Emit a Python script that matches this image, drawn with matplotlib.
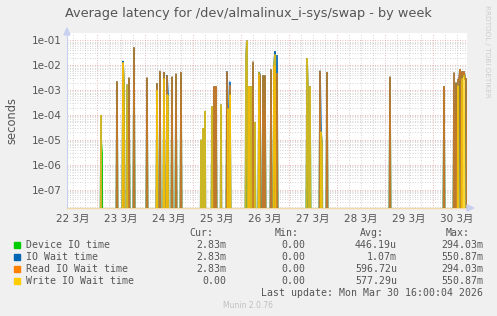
import numpy as np
import matplotlib
matplotlib.use("Agg")
import matplotlib.pyplot as plt

# ---------------- data ----------------
title = "Average latency for /dev/almalinux_i-sys/swap - by week"
series_names = ["Device IO time", "IO Wait time", "Read IO Wait time", "Write IO Wait time"]
series_colors = ["#00cc00", "#0066b3", "#ff8000", "#ffcc00"]
cur_vals = ["2.83m", "2.83m", "2.83m", "0.00"]
min_vals = ["0.00", "0.00", "0.00", "0.00"]
avg_vals = ["446.19u", "1.07m", "596.72u", "577.29u"]
max_vals = ["294.03m", "550.87m", "294.03m", "550.87m"]
day_labels = ["22 3月", "23 3月", "24 3月", "25 3月", "26 3月", "27 3月", "28 3月", "29 3月", "30 3月"]
ytick_vals = [1e-1, 1e-2, 1e-3, 1e-4, 1e-5, 1e-6, 1e-7]
ytick_labels = ["1e-01", "1e-02", "1e-03", "1e-04", "1e-05", "1e-06", "1e-07"]

# spike times (hours since 22 Mar 00:00) and values of each series at that time (0 = idle)
spike_hours = [26, 26.5, 34, 37, 37.5, 39, 40, 42.5, 49, 54, 55.5, 57.5, 59, 59.5,
               61.5, 63.5, 66, 76, 77, 78, 81.5, 82.5, 83.5, 86, 89, 89.5, 90.5,
               98.5, 99, 100, 101, 102, 103, 105, 105.5, 107, 108, 111, 112.5, 113, 114,
               129, 129.5, 130.5, 135.5, 136, 136.5, 139, 170.5, 197.5, 202.5, 203.5,
               204.5, 205, 205.5, 206.5, 207, 207.5, 208, 208.5]
device_vals = [1e-5, 3e-6, 2e-3, 1e-2, 0, 0, 3e-3, 5e-2, 3e-3, 1.8e-3, 5.5e-3, 5e-3, 2e-4, 0,
               3.3e-3, 4.4e-3, 5e-3, 1e-7, 6e-8, 1e-7, 1e-4, 1.3e-3, 1.3e-3, 0, 5e-3, 0, 1e-3,
               2e-5, 1e-4, 1e-3, 1e-4, 1.2e-2, 3e-5, 3e-3, 3.5e-3, 3.8e-3, 3.8e-3, 6e-3, 2e-3, 1e-2, 4e-3,
               5e-4, 2e-4, 9e-4, 5e-3, 0, 0, 5e-3, 3.3e-3, 1.3e-3, 3.2e-4, 2e-3,
               5e-4, 5e-4, 6e-3, 5e-3, 3.5e-3, 5e-3, 2.83e-3, 2.83e-3]
wait_vals = [1e-4, 0, 2.3e-3, 1.5e-2, 2e-3, 1.7e-3, 3.2e-3, 5.4e-2, 3.2e-3, 1.9e-3, 6e-3, 5.4e-3, 3.9e-3, 6e-4,
             3.5e-3, 4.6e-3, 5.4e-3, 1e-5, 3e-5, 1.4e-4, 2.2e-4, 1.4e-3, 1.4e-3, 2.6e-4, 5.6e-3, 1.8e-4, 2.2e-3,
             2e-2, 9.8e-2, 1.4e-3, 1.4e-3, 1.4e-2, 5e-5, 5.4e-3, 4e-3, 4e-3, 4e-3, 7e-3, 1e-2, 3.6e-2, 2.6e-2,
             1.9e-2, 1e-3, 1.4e-3, 6e-3, 2.1e-5, 7e-6, 5.4e-3, 3.5e-3, 1.4e-3, 5.1e-3, 2e-3,
             2.6e-3, 2.6e-3, 7e-3, 5.6e-3, 4e-3, 5.6e-3, 2.83e-3, 2.83e-3]
read_vals = [0, 0, 2.3e-3, 1.2e-2, 0, 0, 3.2e-3, 5.4e-2, 3.2e-3, 1.9e-3, 6e-3, 5.4e-3, 3.9e-3, 0,
             3.5e-3, 4.6e-3, 5.4e-3, 0, 0, 0, 0, 1.4e-3, 1.4e-3, 0, 5.6e-3, 0, 1.6e-3,
             0, 0, 1.4e-3, 0, 1.4e-2, 0, 4e-3, 4e-3, 4e-3, 4e-3, 7e-3, 8e-3, 1e-2, 4.9e-3,
             0, 0, 0, 6e-3, 0, 0, 5.4e-3, 3.5e-3, 1.4e-3, 5.1e-3, 2e-3,
             2.6e-3, 2.6e-3, 7e-3, 5.6e-3, 4e-3, 5.6e-3, 2.83e-3, 2.83e-3]
write_vals = [1e-4, 0, 0, 1.3e-2, 2e-3, 1.7e-3, 0, 0, 0, 1e-3, 0, 3e-3, 6.5e-4, 6e-4,
              0, 0, 0, 1e-5, 3e-5, 1.4e-4, 2.2e-4, 0, 0, 2.6e-4, 0, 1.8e-4, 6.5e-4,
              2e-2, 9.8e-2, 1.4e-3, 1.4e-3, 0, 5e-5, 5.4e-3, 0, 0, 0, 0, 1e-2, 2.7e-2, 0,
              1.9e-2, 1e-3, 1.4e-3, 0, 2.1e-5, 7e-6, 0, 0, 0, 0, 0,
              1.5e-3, 0, 0, 3e-3, 0, 4e-3, 0, 0]

# ---------------- figure ----------------
W, H = 497, 316
fig = plt.figure(figsize=(W / 100, H / 100), dpi=100, facecolor="#f0f0f0")
ax = fig.add_axes([67 / W, (H - 208) / H, 400 / W, 175 / H])
ax.set_facecolor("white")

t_start, t_end = 9.0, 209.0
grid_t = np.arange(t_start, t_end + 0.25, 0.5)
floor = 1e-14
alphas = [1.0, 1.0, 0.75, 0.8]

for vals, color, a in zip([device_vals, wait_vals, read_vals, write_vals], series_colors, alphas):
    y = np.full(grid_t.shape, floor)
    idx = np.round((np.array(spike_hours) - t_start) / 0.5).astype(int)
    v = np.array(vals, dtype=float)
    y[idx] = np.where(v > 0, v, floor)
    ax.plot(grid_t, y, color=color, lw=1.2, alpha=a, solid_joinstyle="miter", zorder=3)

ax.set_yscale("log")
ax.set_xlim(t_start, t_end)
ax.set_ylim(1.8e-8, 2.0e-1)

# grid
for d in range(0, 10):
    for q in range(4):
        h = d * 24 + q * 6
        if t_start < h < t_end:
            if q == 0:
                ax.axvline(h, color="#e8a0a0", lw=0.6, ls=(0, (1, 2)), zorder=1)
            else:
                ax.axvline(h, color="#c8c8c8", lw=0.6, ls=(0, (1, 2)), zorder=1)
for e in range(-8, 0):
    for m in range(1, 10):
        val = m * 10.0 ** e
        if 1.8e-8 < val < 2e-1:
            if m == 1:
                ax.axhline(val, color="#e8a0a0", lw=0.6, ls=(0, (1, 2)), zorder=1)
            else:
                ax.axhline(val, color="#c8c8c8", lw=0.6, ls=(0, (1, 2)), zorder=1)

ax.set_yticks(ytick_vals)
ax.set_yticklabels(ytick_labels)
ax.yaxis.set_minor_locator(matplotlib.ticker.NullLocator())
ax.set_xticks([12 + 24 * i for i in range(len(day_labels))])
ax.set_xticklabels(day_labels)
ax.tick_params(axis="both", length=0, labelsize=7.5, colors="#555555", pad=4)
for lab in ax.get_xticklabels():
    lab.set_fontfamily(["DejaVu Sans", "Noto Sans CJK JP"])
    lab.set_color("#555555")

for s in ["top", "right"]:
    ax.spines[s].set_visible(False)
ax.spines["left"].set_color("#c8d0f0")
ax.spines["bottom"].set_color("#f0d8a8")
ax.spines["left"].set_linewidth(0.8)
ax.spines["bottom"].set_linewidth(1.0)

# axis arrows
fig.patches.append(matplotlib.patches.Polygon(
    [[64 / W, (H - 35) / H], [70 / W, (H - 35) / H], [67 / W, (H - 28) / H]],
    closed=True, transform=fig.transFigure, color="#c8d0f0", zorder=5))
fig.patches.append(matplotlib.patches.Polygon(
    [[467 / W, (H - 205) / H], [467 / W, (H - 211) / H], [474 / W, (H - 208) / H]],
    closed=True, transform=fig.transFigure, color="#c8d0f0", zorder=5))

# texts
fig.text(248 / W, 1 - 13 / H, title, ha="center", va="center", fontsize=9.3, color="#555555")
fig.text(12 / W, 1 - 120 / H, "seconds", rotation=90, ha="center", va="center", fontsize=8.3, color="#555555")
fig.text(487 / W, 1 - 5 / H, "RRDTOOL / TOBI OETIKER", rotation=270, ha="center", va="top",
         fontsize=5.2, color="#cccccc")

mono = "DejaVu Sans Mono"
fs = 7.1
tc = "#555555"
hy = 233
fig.text(213 / W, 1 - hy / H, "Cur:", ha="right", va="center", family=mono, fontsize=fs, color=tc)
fig.text(299 / W, 1 - hy / H, "Min:", ha="right", va="center", family=mono, fontsize=fs, color=tc)
fig.text(384 / W, 1 - hy / H, "Avg:", ha="right", va="center", family=mono, fontsize=fs, color=tc)
fig.text(470 / W, 1 - hy / H, "Max:", ha="right", va="center", family=mono, fontsize=fs, color=tc)
for i, name in enumerate(series_names):
    yy = 244.5 + 12 * i
    fig.patches.append(matplotlib.patches.Rectangle(
        (14 / W, 1 - (yy + 3) / H), 6 / W, 6 / H, transform=fig.transFigure,
        color=series_colors[i]))
    fig.text(26 / W, 1 - yy / H, name, ha="left", va="center", family=mono, fontsize=fs, color=tc)
    fig.text(226 / W, 1 - yy / H, cur_vals[i], ha="right", va="center", family=mono, fontsize=fs, color=tc)
    fig.text(305 / W, 1 - yy / H, min_vals[i], ha="right", va="center", family=mono, fontsize=fs, color=tc)
    fig.text(397 / W, 1 - yy / H, avg_vals[i], ha="right", va="center", family=mono, fontsize=fs, color=tc)
    fig.text(483 / W, 1 - yy / H, max_vals[i], ha="right", va="center", family=mono, fontsize=fs, color=tc)
fig.text(483 / W, 1 - 292.5 / H, "Last update: Mon Mar 30 16:00:04 2026", ha="right", va="center",
         family=mono, fontsize=fs, color=tc)
fig.text(248 / W, 1 - 305 / H, "Munin 2.0.76", ha="center", va="center", fontsize=5.5, color="#c0c0c0")

fig.savefig("out.png", dpi=100, facecolor=fig.get_facecolor())
